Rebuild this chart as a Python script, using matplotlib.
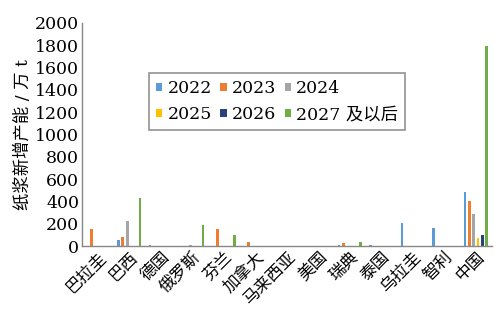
import matplotlib
matplotlib.use("Agg")
import matplotlib.pyplot as plt
import numpy as np

plt.rcParams['font.family'] = ['DejaVu Serif', 'Noto Sans CJK SC']

countries = ['巴拉圭', '巴西', '德国', '俄罗斯', '芬兰', '加拿大', '马来西亚',
             '美国', '瑞典', '泰国', '乌拉圭', '智利', '中国']
series_names = ['2022', '2023', '2024', '2025', '2026', '2027 及以后']
v2022 = [0, 50, 10, 0, 0, 0, 0, 0, 10, 10, 210, 165, 480]
v2023 = [150, 80, 0, 0, 150, 35, 0, 0, 30, 0, 0, 0, 405]
v2024 = [0, 220, 0, 10, 0, 0, 0, 0, 0, 0, 0, 0, 290]
v2025 = [0, 0, 0, 0, 0, 0, 0, 0, 0, 0, 0, 0, 70]
v2026 = [0, 0, 0, 0, 0, 0, 0, 0, 0, 0, 0, 0, 100]
v2027 = [0, 430, 0, 190, 100, 0, 0, 0, 40, 0, 0, 0, 1790]
yticks = list(range(0, 2001, 200))

colors = ['#5b9bd5', '#ed7d31', '#a5a5a5', '#ffc000', '#264478', '#70ad47']
data = [v2022, v2023, v2024, v2025, v2026, v2027]

fig = plt.figure(figsize=(4.94, 3.11), dpi=100)
ax = fig.add_axes([0.166, 0.209, 0.829, 0.718])
x = np.arange(len(countries))
slot = 0.136
bw = 0.09
handles = []
for i, (vals, c, name) in enumerate(zip(data, colors, series_names)):
    h = ax.bar(x + (i - 2.5) * slot, vals, width=bw, color=c, label=name)
    handles.append(h)

ax.set_xlim(-0.5, len(countries) - 0.5)
ax.set_ylim(0, 2000)
ax.set_yticks(yticks)
ax.set_yticklabels([str(t) for t in yticks], fontsize=12.5)
ax.set_xticks(x)
ax.set_xticklabels(countries, rotation=45, ha='right', rotation_mode='anchor', fontsize=12)
ax.tick_params(axis='both', length=0, pad=2)
for s in ['top', 'right']:
    ax.spines[s].set_visible(False)
for s in ['left', 'bottom']:
    ax.spines[s].set_color('#888888')
    ax.spines[s].set_linewidth(1.0)
ax.set_ylabel('纸浆新增产能 / 万 t', fontsize=12.5, labelpad=2)

order = [0, 3, 1, 4, 2, 5]
leg = ax.legend([handles[k] for k in order], [series_names[k] for k in order],
                ncol=3, loc='upper left', bbox_to_anchor=(0.164, 0.775), fontsize=12.5,
                frameon=True, fancybox=False, edgecolor='#777777', handlelength=0.35,
                handleheight=0.35, handletextpad=0.3, columnspacing=0.5,
                borderpad=0.4, labelspacing=0.55, borderaxespad=0)
leg.get_frame().set_linewidth(1.2)

fig.savefig('out.png', dpi=100)
